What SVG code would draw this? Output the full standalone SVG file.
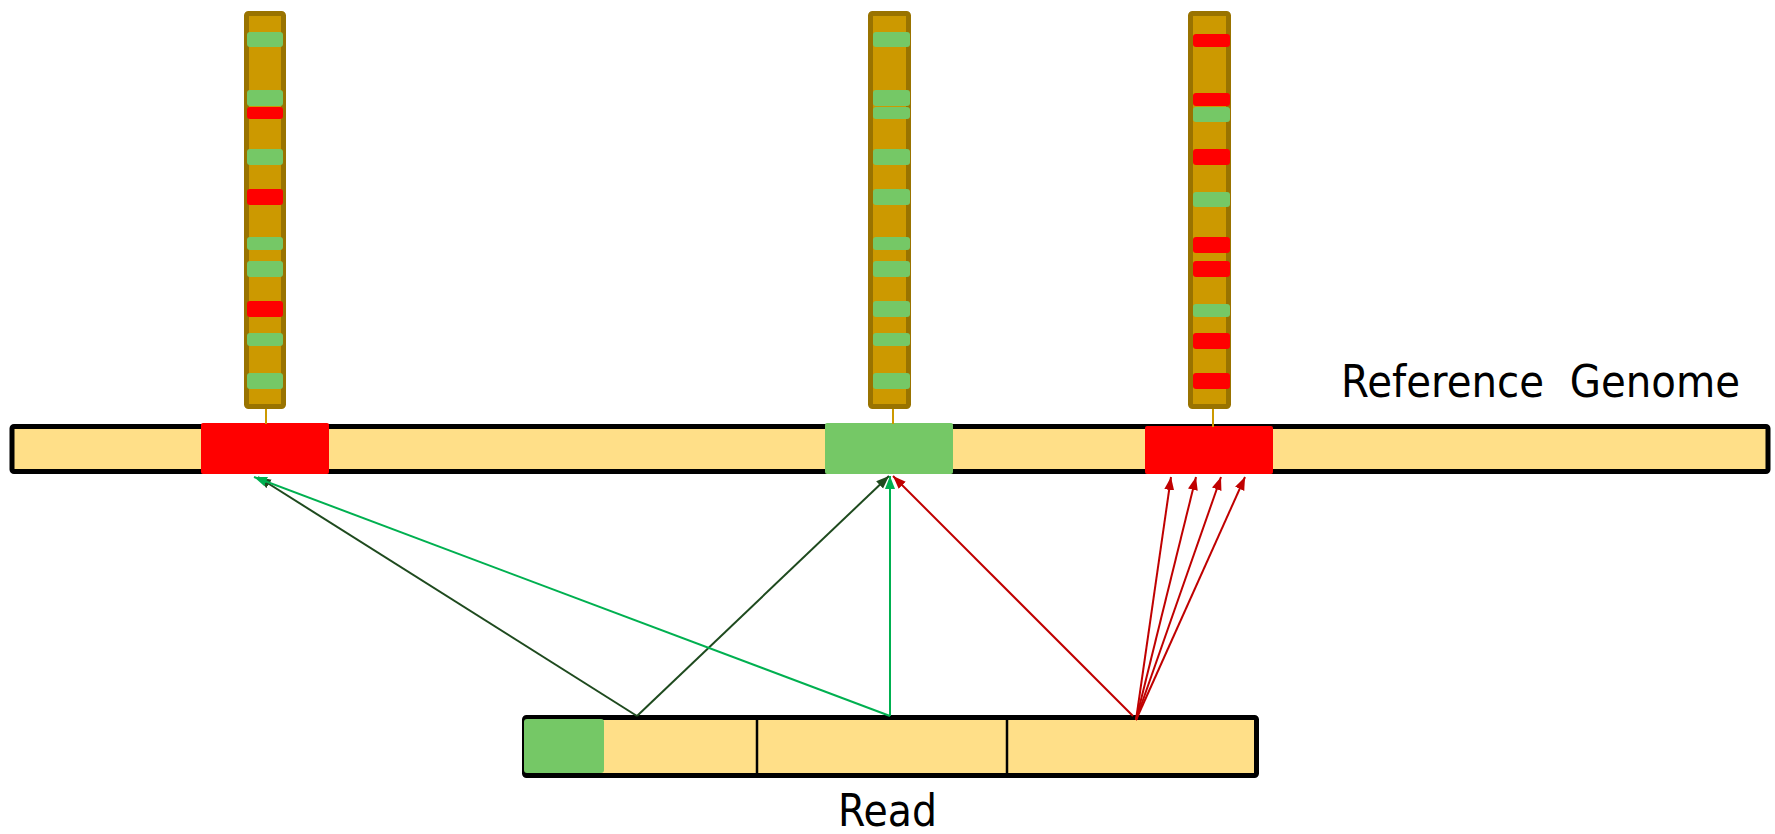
<svg xmlns="http://www.w3.org/2000/svg" width="1775" height="834" viewBox="0 0 1775 834">
<defs>
<style>
.col{fill:#CC9900;stroke:#997300;stroke-width:5}
.g{fill:#75C866}
.r{fill:#FF0000}
.stem{stroke:#CC9900;stroke-width:2}
.bar{fill:#FFDF88;stroke:#000;stroke-width:5}
.div{stroke:#000;stroke-width:2.5}
.lbl{font-family:"DejaVu Sans",sans-serif;font-size:44px;fill:#000}
.dk{stroke:#1E4A1E;stroke-width:2;fill:none;marker-end:url(#mdk)}
.gn{stroke:#00B050;stroke-width:2;fill:none;marker-end:url(#mgn)}
.rd{stroke:#C00000;stroke-width:2;fill:none;marker-end:url(#mrd)}
</style>
<marker id="mdk" markerUnits="userSpaceOnUse" markerWidth="14" markerHeight="11" refX="13" refY="5" orient="auto"><path d="M0,0 L13,5 L0,10 z" fill="#1E4A1E"/></marker>
<marker id="mgn" markerUnits="userSpaceOnUse" markerWidth="14" markerHeight="11" refX="13" refY="5" orient="auto"><path d="M0,0 L13,5 L0,10 z" fill="#00B050"/></marker>
<marker id="mrd" markerUnits="userSpaceOnUse" markerWidth="14" markerHeight="11" refX="13" refY="5" orient="auto"><path d="M0,0 L13,5 L0,10 z" fill="#C00000"/></marker>
</defs>
<rect width="1775" height="834" fill="#fff"/>

<g id="genome">
<rect class="bar" x="12" y="426.5" width="1756" height="45" rx="2"/>
<rect class="r" x="201" y="423" width="128" height="51" rx="2"/>
<rect class="g" x="825" y="423" width="128" height="51" rx="2"/>
<rect class="r" x="1145" y="426" width="128" height="48" rx="2"/>
<text class="lbl" x="1341" y="397" textLength="399" lengthAdjust="spacingAndGlyphs" xml:space="preserve">Reference  Genome</text>
</g>

<g id="column1">
<line class="stem" x1="266" y1="408" x2="266" y2="424"/>
<rect class="col" x="246.5" y="13.5" width="37" height="393" rx="2"/>
<rect class="g" x="247" y="32" width="36" height="15" rx="3"/>
<rect class="g" x="247" y="90" width="36" height="16" rx="3"/>
<rect class="r" x="247" y="107" width="36" height="12" rx="3"/>
<rect class="g" x="247" y="149" width="36" height="16" rx="3"/>
<rect class="r" x="247" y="189" width="36" height="16" rx="3"/>
<rect class="g" x="247" y="237" width="36" height="13" rx="3"/>
<rect class="g" x="247" y="261" width="36" height="16" rx="3"/>
<rect class="r" x="247" y="301" width="36" height="16" rx="3"/>
<rect class="g" x="247" y="333" width="36" height="13" rx="3"/>
<rect class="g" x="247" y="373" width="36" height="16" rx="3"/>
</g>

<g id="column2">
<line class="stem" x1="893" y1="408" x2="893" y2="424"/>
<rect class="col" x="870.5" y="13.5" width="38" height="393" rx="2"/>
<rect class="g" x="873" y="32" width="37" height="15" rx="3"/>
<rect class="g" x="873" y="90" width="37" height="16" rx="3"/>
<rect class="g" x="873" y="107" width="37" height="12" rx="3"/>
<rect class="g" x="873" y="149" width="37" height="16" rx="3"/>
<rect class="g" x="873" y="189" width="37" height="16" rx="3"/>
<rect class="g" x="873" y="237" width="37" height="13" rx="3"/>
<rect class="g" x="873" y="261" width="37" height="16" rx="3"/>
<rect class="g" x="873" y="301" width="37" height="16" rx="3"/>
<rect class="g" x="873" y="333" width="37" height="13" rx="3"/>
<rect class="g" x="873" y="373" width="37" height="16" rx="3"/>
</g>

<g id="column3">
<line class="stem" x1="1213" y1="408" x2="1213" y2="427"/>
<rect class="col" x="1190.5" y="13.5" width="38" height="393" rx="2"/>
<rect class="r" x="1193" y="34" width="37" height="13" rx="3"/>
<rect class="r" x="1193" y="93" width="37" height="13" rx="3"/>
<rect class="g" x="1193" y="107" width="37" height="15" rx="3"/>
<rect class="r" x="1193" y="149" width="37" height="16" rx="3"/>
<rect class="g" x="1193" y="192" width="37" height="15" rx="3"/>
<rect class="r" x="1193" y="237" width="37" height="16" rx="3"/>
<rect class="r" x="1193" y="261" width="37" height="16" rx="3"/>
<rect class="g" x="1193" y="304" width="37" height="13" rx="3"/>
<rect class="r" x="1193" y="333" width="37" height="16" rx="3"/>
<rect class="r" x="1193" y="373" width="37" height="16" rx="3"/>
</g>

<g id="read">
<rect class="bar" x="524.5" y="717.5" width="732" height="58" rx="2"/>
<rect class="g" x="524" y="719" width="80" height="54" rx="3"/>
<line class="div" x1="757" y1="718" x2="757" y2="776"/>
<line class="div" x1="1007" y1="718" x2="1007" y2="776"/>
<text class="lbl" x="838" y="826" textLength="99" lengthAdjust="spacingAndGlyphs">Read</text>
</g>

<g id="connectors">
<line class="dk" x1="637" y1="716" x2="258" y2="477"/>
<line class="dk" x1="637" y1="716" x2="889" y2="476"/>
<line class="gn" x1="890" y1="716" x2="254" y2="477"/>
<line class="gn" x1="890" y1="716" x2="890" y2="476"/>
<line class="rd" x1="1133" y1="716" x2="893" y2="476"/>
<line class="rd" x1="1136" y1="720" x2="1171" y2="477"/>
<line class="rd" x1="1136" y1="720" x2="1196" y2="477"/>
<line class="rd" x1="1136" y1="720" x2="1221" y2="477"/>
<line class="rd" x1="1136" y1="720" x2="1245" y2="477"/>
</g>
</svg>
